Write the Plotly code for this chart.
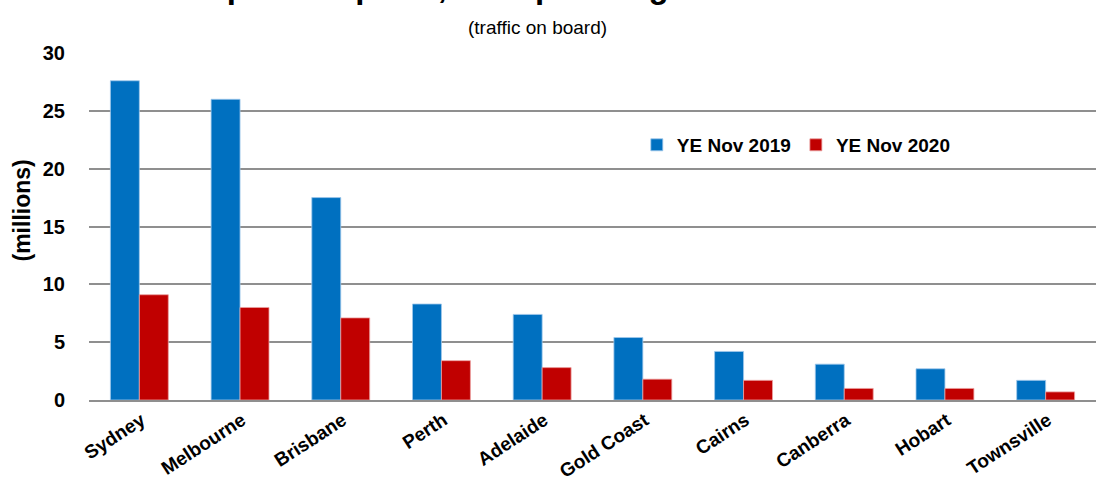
import plotly.graph_objects as go

airports = ["Sydney", "Melbourne", "Brisbane", "Perth", "Adelaide",
            "Gold Coast", "Cairns", "Canberra", "Hobart", "Townsville"]
ye_nov_2019 = [27.6, 26.0, 17.5, 8.3, 7.4, 5.4, 4.2, 3.1, 2.7, 1.7]
ye_nov_2020 = [9.1, 8.0, 7.1, 3.4, 2.8, 1.8, 1.7, 1.0, 1.0, 0.7]
y_ticks = [0, 5, 10, 15, 20, 25, 30]

FONT = "Liberation Sans, Arial, sans-serif"

fig = go.Figure()
fig.add_trace(go.Bar(name="YE Nov 2019", x=airports, y=ye_nov_2019,
                     marker=dict(color="#0070C0", line=dict(width=1, color="rgba(160,200,235,0.8)"))))
fig.add_trace(go.Bar(name="YE Nov 2020", x=airports, y=ye_nov_2020,
                     marker=dict(color="#C00000", line=dict(width=1, color="rgba(235,160,160,0.8)"))))

fig.update_layout(
    width=1101, height=478,
    margin=dict(l=89, r=5, t=53, b=78),
    paper_bgcolor="white", plot_bgcolor="white",
    barmode="group", bargap=0.425, bargroupgap=0,
    font=dict(family=FONT, color="black"),
    showlegend=True,
    legend=dict(orientation="h", x=0.544, xanchor="left", y=0.735, yanchor="middle",
                font=dict(size=19, family=FONT, color="black", weight="bold"),
                bgcolor="rgba(0,0,0,0)", itemwidth=30),
    xaxis=dict(showgrid=False, showline=True, linecolor="#8f8f8f", linewidth=2,
               ticks="", tickangle=-33, automargin=False,
               ticklabelshift=2, ticklabelstandoff=0,
               tickfont=dict(size=19, family=FONT, color="black", weight="bold")),
    yaxis=dict(range=[0, 30], tickvals=y_ticks, showgrid=True, gridcolor="#8f8f8f", gridwidth=2,
               zeroline=False, showline=False, ticks="", ticklabelstandoff=23, automargin=False,
               tickfont=dict(size=20, family=FONT, color="black", weight="bold")),
    annotations=[
        dict(text="Top ten airports, total passenger movements", xref="paper", yref="paper",
             x=0.449, y=1, xanchor="center", yanchor="bottom", yshift=46, showarrow=False,
             font=dict(size=33, family=FONT, color="black", weight="bold")),
        dict(text="(traffic on board)", xref="paper", yref="paper",
             x=0.445, y=1, xanchor="center", yanchor="middle", yshift=26, showarrow=False,
             font=dict(size=19, family=FONT, color="black")),
        dict(text="(millions)", xref="paper", yref="paper", textangle=-90,
             x=0, y=0.5, xanchor="center", yanchor="middle", xshift=-68, yshift=16, showarrow=False,
             font=dict(size=23, family=FONT, color="black", weight="bold")),
    ],
)

fig.write_html("out.html", config={"displayModeBar": False},
               post_script="document.body.style.margin='0';document.body.style.overflow='hidden';")
